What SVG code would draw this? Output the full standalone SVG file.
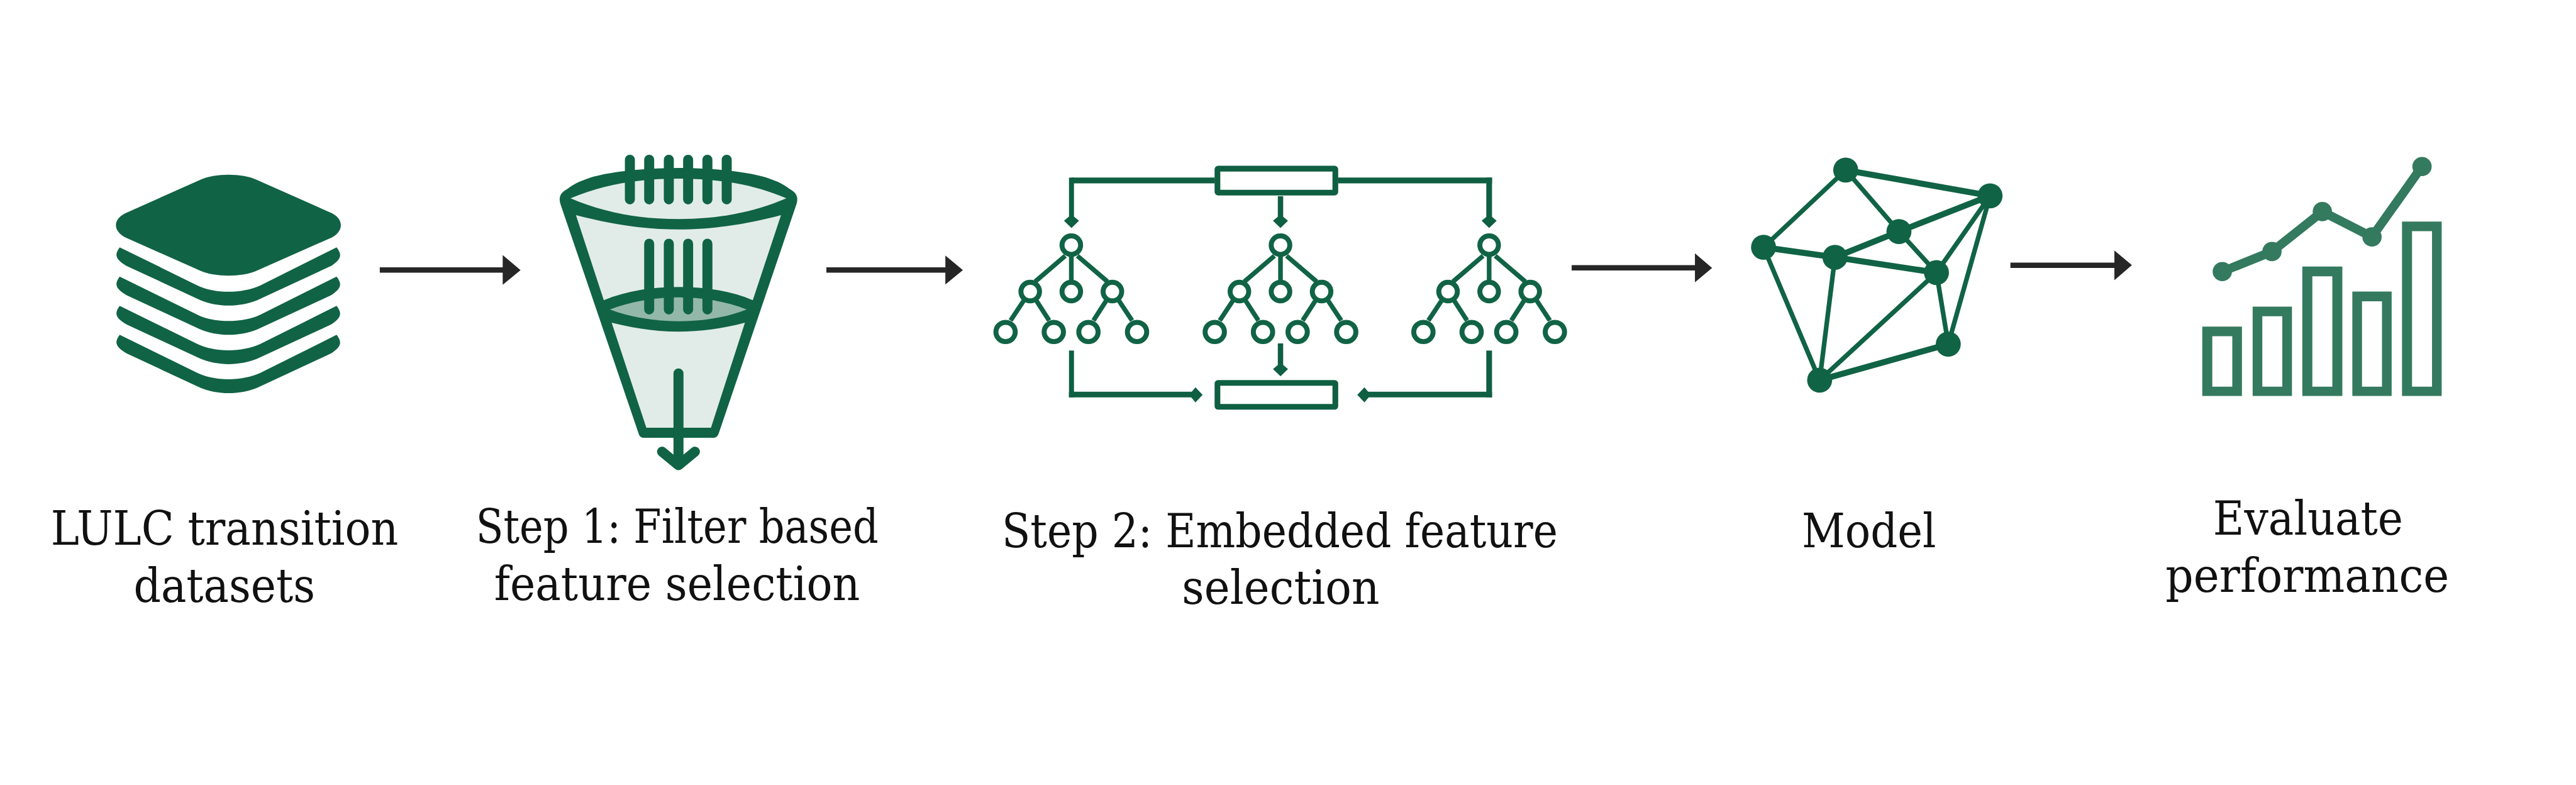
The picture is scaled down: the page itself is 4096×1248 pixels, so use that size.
<svg xmlns="http://www.w3.org/2000/svg" width="4096" height="1248" viewBox="0 0 4096 1248">
<style>
.g{fill:#116346}
.ln{fill:none;stroke:#116346;stroke-linecap:round;stroke-linejoin:round}
.bar{stroke-width:28}
.tline{stroke-width:13;stroke-linecap:butt}
.node{fill:#fff;stroke:#116346;stroke-width:14}
.rect{fill:#fff;stroke:#0f5f42;stroke-width:16}
.conn{fill:none;stroke:#0f5f42;stroke-linejoin:miter}
.edge{stroke:#116346;stroke-linecap:round}
.thin{stroke-width:13}
.thick{stroke-width:17}
.e{fill:#347a5f}
.ar{fill:#262626}
text{font-family:"DejaVu Serif","Liberation Serif",serif;font-size:130px;fill:#111;text-anchor:start}
</style>
<defs>
<path id="band" d="M335 692L553 799C600 822 678 822 728 799L942 692C958 712 956 725 927 744L720 840C670 860 610 860 561 840L354 744C322 725 320 712 335 692Z"/>
<path id="head" d="M-21 -20L-8 -31L8 -31L21 -20L0 0Z"/>
<g id="tree">
<g class="ln tline">
<path d="M0 711V790M-17 716L-101 788M17 716L101 788M-133 841L-170 897M-98 841L-62 897M98 841L62 897M133 841L170 897"/>
</g>
<circle class="node" cx="0" cy="686" r="26"/>
<circle class="node" cx="-115" cy="816" r="26"/>
<circle class="node" cx="0" cy="816" r="26"/>
<circle class="node" cx="115" cy="816" r="26"/>
<circle class="node" cx="-184" cy="929" r="27"/>
<circle class="node" cx="-49" cy="929" r="27"/>
<circle class="node" cx="48" cy="929" r="27"/>
<circle class="node" cx="184" cy="929" r="27"/>
</g>
</defs>
<rect width="4096" height="1248" fill="#fff"/>
<g transform="scale(0.5681)">
<g id="node-datasets">
<path class="g" d="M350 597L561 503C600 484 680 484 718 503L930 597C962 614 962 646 930 664L718 758C680 776 600 776 561 758L350 664C316 646 316 614 350 597Z"/>
<use href="#band" class="g"/>
<use href="#band" class="g" y="82"/>
<use href="#band" class="g" y="164"/>
<use href="#band" class="g" y="245"/>
<text x="142" y="1525" textLength="973" lengthAdjust="spacingAndGlyphs">LULC transition</text>
<text x="374" y="1685" textLength="508" lengthAdjust="spacingAndGlyphs">datasets</text>
</g>
<g id="node-filter">
<path class="g" d="M1569 572C1562 550 1570 538 1589 528C1610 512 1630 505 1653 497C1700 482 1800 470 1898 470C2000 470 2098 482 2145 497C2168 505 2188 512 2209 528C2228 538 2236 550 2229 572L2012 1212Q2008 1225 1998 1225L1800 1225Q1790 1225 1787 1212Z"/>
<path fill="#e1ece8" d="M1597 555C1690 515 1790 500 1899 500C2008 500 2108 515 2201 555C2108 595 2008 613 1899 613C1790 613 1690 595 1597 555Z"/>
<path fill="#e1ece8" d="M1612 602C1720 630 1810 642 1899 642C1990 642 2080 630 2186 602L2107 840C2050 815 1980 803 1899 803C1820 803 1750 815 1690 840Z"/>
<path fill="#93b8a9" d="M1707 866C1770 842 1840 832 1899 832C1960 832 2030 842 2090 866C2030 890 1960 899 1899 899C1840 899 1770 890 1707 866Z"/>
<path fill="#e1ece8" d="M1712 903C1780 920 1840 928 1899 928C1960 928 2020 920 2085 903L1990 1197H1809Z"/>
<path class="ln bar" d="M1763 447V558M1817 447V558M1872 447V558M1926 447V558M1980 447V558M2034 447V558M1817 682V866M1872 682V866M1926 682V866M1980 682V866"/>
<path class="ln bar" d="M1899 1045V1300M1853 1264L1899 1302L1945 1264"/>
<text x="1332" y="1520" textLength="1127" lengthAdjust="spacingAndGlyphs">Step 1: Filter based</text>
<text x="1383" y="1680" textLength="1024" lengthAdjust="spacingAndGlyphs">feature selection</text>
</g>
<g id="node-embedded">
<rect class="rect" x="3407.500" y="472" width="330" height="67" rx="2"/>
<rect class="rect" x="3407.500" y="1071.500" width="330" height="67" rx="2"/>
<use href="#tree" x="2998.500"/>
<use href="#tree" x="3584"/>
<use href="#tree" x="4168"/>
<text x="2804" y="1531" textLength="1556" lengthAdjust="spacingAndGlyphs">Step 2: Embedded feature</text>
<text x="3308" y="1690" textLength="553" lengthAdjust="spacingAndGlyphs">selection</text>
</g>
<g id="node-model">
<g class="edge">
<path class="thin" d="M5166 476L4936 692M5166 476L5315 648M5570 548L5420 763M5570 548L5453 963M5315 648L5420 763M4936 692L5093 1064M5136 720L5093 1064M5420 763L5093 1064M5420 763L5453 963"/>
<path class="thick" d="M5166 476L5570 548M5570 548L5315 648M5315 648L5136 720M4936 692L5136 720M5136 720L5420 763M5453 963L5093 1064"/>
</g>
<g class="g">
<circle cx="5166" cy="476" r="35"/><circle cx="5570" cy="548" r="35"/><circle cx="5315" cy="648" r="35"/><circle cx="4936" cy="692" r="35"/><circle cx="5136" cy="720" r="35"/><circle cx="5420" cy="763" r="35"/><circle cx="5453" cy="963" r="35"/><circle cx="5093" cy="1064" r="35"/>
</g>
<text x="5043" y="1531" textLength="376" lengthAdjust="spacingAndGlyphs">Model</text>
</g>
<g id="node-evaluate">
<path class="e" fill-rule="evenodd" d="M6164 914H6275V1108H6164ZM6192 941V1082H6248V941Z"/>
<path class="e" fill-rule="evenodd" d="M6305 858H6415V1108H6305ZM6332 885V1082H6388V885Z"/>
<path class="e" fill-rule="evenodd" d="M6444 746H6556V1108H6444ZM6472 773V1082H6528V773Z"/>
<path class="e" fill-rule="evenodd" d="M6584 816H6694V1108H6584ZM6611 843V1082H6667V843Z"/>
<path class="e" fill-rule="evenodd" d="M6723 620H6834V1108H6723ZM6751 647V1082H6807V647Z"/>
<path d="M6220 760L6359 704L6500 592L6639 663L6779 466" fill="none" stroke="#347a5f" stroke-width="25"/>
<g class="e"><circle cx="6220" cy="760" r="27"/><circle cx="6359" cy="704" r="27"/><circle cx="6500" cy="592" r="27"/><circle cx="6639" cy="663" r="27"/><circle cx="6779" cy="466" r="27"/></g>
<text x="6194" y="1496" textLength="532" lengthAdjust="spacingAndGlyphs">Evaluate</text>
<text x="6061" y="1656" textLength="794" lengthAdjust="spacingAndGlyphs">performance</text>
</g>
<g id="connectors">
<path class="conn" stroke-width="16" d="M3400 505H2999"/>
<path class="conn" stroke-width="14" d="M2999 497V612"/>
<path class="conn" stroke-width="16" d="M3745 505H4176"/>
<path class="conn" stroke-width="16" d="M4168 497V612"/>
<path class="conn" stroke-width="15" d="M3584 549V612"/>
<path class="conn" stroke-width="14" d="M2999 981V1112"/>
<path class="conn" stroke-width="16" d="M2992 1104H3340"/>
<path class="conn" stroke-width="16" d="M4168 981V1112"/>
<path class="conn" stroke-width="16" d="M4176 1104H3828"/>
<path class="conn" stroke-width="15" d="M3584 961V1030"/>
<g fill="#0f5f42">
<use href="#head" transform="translate(2999 638)"/>
<use href="#head" transform="translate(3584 638)"/>
<use href="#head" transform="translate(4168 638)"/>
<use href="#head" transform="translate(3584 1053)"/>
<use href="#head" transform="translate(3366 1105) rotate(-90)"/>
<use href="#head" transform="translate(3799 1105) rotate(90)"/>
</g>
<g class="ar">
<path d="M1063 748H1407V714L1457 756L1407 797V763H1063Z"/>
<path d="M2313 748H2646V715L2695 756L2646 796V763H2313Z"/>
<path d="M4399 742H4744V709L4792 750L4744 790V757H4399Z"/>
<path d="M5627 735H5918V701L5967 742L5918 784V750H5627Z"/>
</g>
</g>
</g>
</svg>
